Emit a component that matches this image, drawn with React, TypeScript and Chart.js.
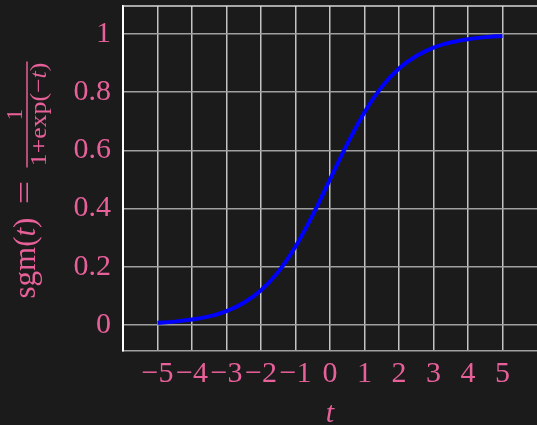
import React, { useEffect, useRef } from "react";
import { Chart, registerables } from "chart.js";

Chart.register(...registerables);

const T_VALUES = [-5, -4.5, -4, -3.5, -3, -2.5, -2, -1.5, -1, -0.5, 0, 0.5, 1, 1.5, 2, 2.5, 3, 3.5, 4, 4.5, 5];
const SGM_VALUES = [0.007, 0.011, 0.018, 0.029, 0.047, 0.076, 0.119, 0.182, 0.269, 0.378, 0.5, 0.622, 0.731, 0.818, 0.881, 0.924, 0.953, 0.971, 0.982, 0.989, 0.993];

const X_TICKS = [-5, -4, -3, -2, -1, 0, 1, 2, 3, 4, 5];
const X_TICK_LABELS = ["−5", "−4", "−3", "−2", "−1", "0", "1", "2", "3", "4", "5"];
const Y_TICKS = [0, 0.2, 0.4, 0.6, 0.8, 1];
const Y_TICK_LABELS = ["0", "0.2", "0.4", "0.6", "0.8", "1"];

const X_MIN = -6;
const X_MAX = 6;
const Y_MIN = -0.09;
const Y_MAX = 1.096;

const X_TITLE = "t";
const Y_TITLE_FUNC = "sgm(";
const Y_TITLE_VAR = "t";
const Y_TITLE_CLOSE = ")";
const Y_TITLE_EQ = "=";
const FRAC_NUM = "1";
const FRAC_DEN_A = "1+exp(−";
const FRAC_DEN_VAR = "t";
const FRAC_DEN_B = ")";

const BG = "#1b1b1b";
const PINK = "#e8609a";
const FONT = '"Liberation Serif", "DejaVu Serif", serif';

const lookup = (ticks: number[], labels: string[], v: number) => {
  const i = ticks.findIndex((t) => Math.abs(t - v) < 1e-9);
  return i >= 0 ? labels[i] : "";
};

const decorPlugin = {
  id: "decor",
  beforeDraw(chart: any) {
    const ctx = chart.ctx;
    ctx.save();
    ctx.fillStyle = BG;
    ctx.fillRect(0, 0, chart.width, chart.height);
    ctx.restore();
  },
  afterDraw(chart: any) {
    const ctx = chart.ctx;
    const area = chart.chartArea;
    ctx.save();
    // top border
    ctx.strokeStyle = "#d8d8d8";
    ctx.lineWidth = 1.5;
    ctx.beginPath();
    ctx.moveTo(area.left, area.top);
    ctx.lineTo(chart.width, area.top);
    ctx.stroke();

    ctx.fillStyle = PINK;
    ctx.strokeStyle = PINK;
    // x title
    ctx.font = `italic 30px ${FONT}`;
    ctx.textAlign = "center";
    ctx.textBaseline = "alphabetic";
    ctx.fillText(X_TITLE, (area.left + area.right) / 2, 422);

    // y title (rotated); local u = startY - screenY, v = screenX
    const mid = (area.top + area.bottom) / 2;
    const startY = mid + 120;
    ctx.translate(0, startY);
    ctx.rotate(-Math.PI / 2);
    ctx.textAlign = "left";
    let u = 0;
    const base = 35;
    const seg = (txt: string, font: string, v: number) => {
      ctx.font = font;
      ctx.fillText(txt, u, v);
      u += ctx.measureText(txt).width;
    };
    seg(Y_TITLE_FUNC, `31px ${FONT}`, base);
    seg(Y_TITLE_VAR, `italic 31px ${FONT}`, base);
    seg(Y_TITLE_CLOSE, `31px ${FONT}`, base);
    // equals sign anchored (stretched like TeX's wider "=")
    ctx.save();
    ctx.font = `31px ${FONT}`;
    ctx.textAlign = "center";
    ctx.translate(startY - (mid + 14), 0);
    ctx.scale(1.35, 1);
    ctx.fillText(Y_TITLE_EQ, 0, base);
    ctx.restore();
    // fraction anchored: bar from screen y = mid-11 .. mid-117
    const fracStart = startY - (mid - 11);
    const fracEnd = startY - (mid - 117);
    const fracMid = (fracStart + fracEnd) / 2;
    ctx.lineWidth = 1.5;
    ctx.beginPath();
    ctx.moveTo(fracStart, 27);
    ctx.lineTo(fracEnd, 27);
    ctx.stroke();
    const dFont = `23px ${FONT}`;
    const dFontI = `italic 23px ${FONT}`;
    ctx.font = dFont;
    ctx.textAlign = "center";
    ctx.fillText(FRAC_NUM, fracMid, 22);
    ctx.textAlign = "left";
    const wA = ctx.measureText(FRAC_DEN_A).width;
    const wB = ctx.measureText(FRAC_DEN_B).width;
    ctx.font = dFontI;
    const wV = ctx.measureText(FRAC_DEN_VAR).width;
    const stretch = 1.12;
    const denW = (wA + wV + wB) * stretch;
    ctx.translate(fracMid - denW / 2, 0);
    ctx.scale(stretch, 1);
    u = 0;
    seg(FRAC_DEN_A, dFont, 46);
    seg(FRAC_DEN_VAR, dFontI, 46);
    seg(FRAC_DEN_B, dFont, 46);
    ctx.restore();
  },
};

export default function App() {
  const ref = useRef<HTMLCanvasElement>(null);
  useEffect(() => {
    document.body.style.margin = "0";
    document.body.style.background = BG;
    const canvas = ref.current!;
    const chart = new Chart(canvas, {
      type: "line",
      data: {
        datasets: [
          {
            data: T_VALUES.map((t, i) => ({ x: t, y: SGM_VALUES[i] })),
            borderColor: "#0000ff",
            borderWidth: 4,
            pointRadius: 0,
            fill: false,
            cubicInterpolationMode: "monotone",
          },
        ],
      },
      options: {
        animation: false,
        responsive: false,
        devicePixelRatio: 1,
        layout: { padding: { top: 6, left: 0, right: 0, bottom: 0 } },
        plugins: { legend: { display: false }, tooltip: { enabled: false } },
        scales: {
          x: {
            type: "linear",
            min: X_MIN,
            max: X_MAX,
            afterBuildTicks: (s: any) => {
              s.ticks = X_TICKS.map((v) => ({ value: v }));
            },
            afterFit: (s: any) => {
              s.height = 74;
              s.paddingLeft = 0;
              s.paddingRight = 0;
            },
            grid: { color: "#c4c4c4", lineWidth: 1.5, drawTicks: false },
            border: { color: "#a0a0a0", width: 1.5 },
            ticks: {
              autoSkip: false,
              maxRotation: 0,
              minRotation: 0,
              padding: 5,
              color: PINK,
              font: { family: FONT, size: 30 },
              callback: (v: any) => lookup(X_TICKS, X_TICK_LABELS, Number(v)),
            },
          },
          y: {
            type: "linear",
            min: Y_MIN,
            max: Y_MAX,
            afterBuildTicks: (s: any) => {
              s.ticks = Y_TICKS.map((v) => ({ value: v }));
            },
            afterFit: (s: any) => {
              s.width = 123;
              s.paddingTop = 0;
              s.paddingBottom = 0;
            },
            grid: { color: "#a0a0a0", lineWidth: 1.5, drawTicks: false },
            border: { color: "#ffffff", width: 2 },
            ticks: {
              autoSkip: false,
              padding: 12,
              color: PINK,
              font: { family: FONT, size: 30 },
              callback: (v: any) => lookup(Y_TICKS, Y_TICK_LABELS, Number(v)),
            },
          },
        },
      },
      plugins: [decorPlugin],
    } as any);
    return () => chart.destroy();
  }, []);
  return (
    <div style={{ position: "fixed", left: 0, top: 0, width: 537, height: 425, background: BG }}>
      <canvas ref={ref} width={537} height={425} style={{ width: 537, height: 425, display: "block" }} />
    </div>
  );
}
